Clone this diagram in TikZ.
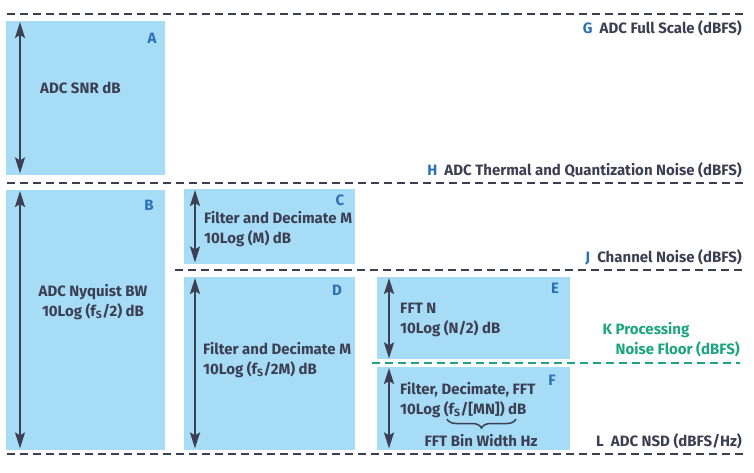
\documentclass[tikz,border=0pt]{standalone}
\usepackage{fontspec}
\setmainfont{Fira Sans}
\usetikzlibrary{arrows.meta}
\usetikzlibrary{decorations.pathreplacing}
\definecolor{boxblue}{HTML}{A6DCF6}
\definecolor{inkdark}{HTML}{3C3F52}
\definecolor{tagblue}{HTML}{2A72B8}
\definecolor{floorgreen}{HTML}{1BA67E}
\newcommand{\fs}{f\textsubscript{S}}
\begin{document}
\begin{tikzpicture}[x=1pt,y=-1pt,
    blk/.style={fill=boxblue,inner sep=0pt,anchor=north west},
    lvl/.style={draw=inkdark,line width=2pt,dash pattern=on 8pt off 5pt},
    span/.style={draw=inkdark,line width=2pt,{Stealth[length=16pt,width=10pt,inset=3pt]}-{Stealth[length=16pt,width=10pt,inset=3pt]}},
    tag/.style={text=tagblue,font=\bfseries\fontsize{15}{20}\selectfont},
    txt/.style={text=inkdark,font=\bfseries\fontsize{15}{20}\selectfont,align=left,inner sep=0pt}]
    \useasboundingbox (0,0) rectangle (754,472);
    % blocks
    \node[blk,minimum width=159pt,minimum height=154pt] (A) at (6,21) {};
    \node[blk,minimum width=159pt,minimum height=260pt] (B) at (6,190) {};
    \node[blk,minimum width=171pt,minimum height=75pt]  (C) at (184,189) {};
    \node[blk,minimum width=171pt,minimum height=173pt] (D) at (184,277) {};
    \node[blk,minimum width=193pt,minimum height=82pt]  (E) at (377,277) {};
    \node[blk,minimum width=193pt,minimum height=83pt]  (F) at (377,367) {};
    % spans
    \draw[span] ([xshift=14pt,yshift=-1pt]A.north west) -- ([xshift=14pt,yshift=2pt]A.south west);
    \draw[span] ([xshift=14pt,yshift=-1pt]B.north west) -- ([xshift=14pt,yshift=2pt]B.south west);
    \draw[span] ([xshift=11pt,yshift=-1pt]C.north west) -- ([xshift=11pt,yshift=2pt]C.south west);
    \draw[span] ([xshift=11pt,yshift=-1pt]D.north west) -- ([xshift=11pt,yshift=2pt]D.south west);
    \draw[span] ([xshift=12pt,yshift=-1pt]E.north west) -- ([xshift=12pt,yshift=1pt]E.south west);
    \draw[span] ([xshift=12pt,yshift=-1pt]F.north west) -- ([xshift=12pt,yshift=2pt]F.south west);
    % levels
    \draw[lvl] (7,14) -- (743,14);
    \draw[lvl] (7,183) -- (743,183);
    \draw[lvl] (175,270) -- (743,270);
    \draw[lvl,draw=floorgreen] (372,363) -- (740,363);
    \draw[lvl] (7,454) -- (743,454);
    % block letters
    \node[tag] (tA) at (152,38) {A};
    \node[tag] (tB) at (149,205) {B};
    \node[tag] (tC) at (340,200) {C};
    \node[tag] (tD) at (337,290) {D};
    \node[tag] (tE) at (555,288) {E};
    \node[tag] (tF) at (552,380) {F};
    % block texts
    \node[txt,anchor=west] (xA) at (40,88) {ADC SNR dB};
    \node[txt,align=center] (xB) at (93,302) {ADC Nyquist BW\\10Log (\fs/2) dB};
    \node[txt,anchor=west] (xC) at (204,229) {Filter and Decimate M\\10Log (M) dB};
    \node[txt,anchor=west] (xD) at (203,360) {Filter and Decimate M\\10Log (\fs/2M) dB};
    \node[txt,anchor=west] (xE) at (400,320) {FFT N\\10Log (N/2) dB};
    \node[txt,anchor=west] (xF) at (400,400) {Filter, Decimate, FFT\\10Log (\fs/[MN]) dB};
    \draw[inkdark,line width=1.5pt,decorate,decoration={brace,mirror,amplitude=9pt}] (447,419) -- (516,419);
    \node[txt] (bin) at (481,441) {FFT Bin Width Hz};
    % level labels
    \node[txt,anchor=east] (lG) at (742,28) {\textcolor{tagblue}{G}\ \ ADC Full Scale (dBFS)};
    \node[txt,anchor=east] (lH) at (742,170) {\textcolor{tagblue}{H}\ \ ADC Thermal and Quantization Noise (dBFS)};
    \node[txt,anchor=east] (lJ) at (742,257) {\textcolor{tagblue}{J}\ \ Channel Noise (dBFS)};
    \node[txt,anchor=east,text=floorgreen] (lK) at (740,340) {K Processing\\\hphantom{K }Noise Floor (dBFS)};
    \node[txt,anchor=east] (lL) at (742,441) {L\ \ ADC NSD (dBFS/Hz)};
\end{tikzpicture}
\end{document}
